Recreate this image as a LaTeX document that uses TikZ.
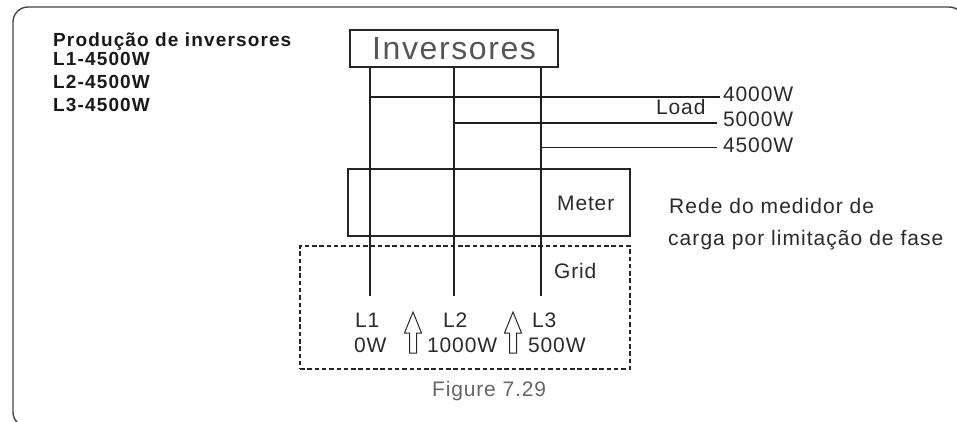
\documentclass[tikz,border=0pt]{standalone}
\usepackage{fontspec}
\setmainfont{Liberation Sans}
\newfontfamily\regfont[LetterSpace=4]{Liberation Sans}
\newfontfamily\boldfont[LetterSpace=6]{Liberation Sans Bold}
\newfontfamily\bigfont[LetterSpace=5]{Liberation Sans}
\newfontfamily\notefont[LetterSpace=5]{Liberation Sans}
\definecolor{txt}{HTML}{2A2A2A}
\definecolor{lgray}{HTML}{555555}
\definecolor{fgray}{HTML}{666666}
\definecolor{frame}{HTML}{444444}
\tikzset{
  wire/.style={line width=1.3pt, draw=black!88},
  boxst/.style={draw=black!85, line width=1.3pt, inner sep=0pt},
  lbl/.style={anchor=base west, inner sep=0pt, text=txt, font=\regfont\fontsize{21}{25}\selectfont},
  blbl/.style={anchor=base west, inner sep=0pt, text=black!90, font=\boldfont\fontsize{19}{22}\selectfont},
  hollowarrow/.style={draw=black!85, line width=1pt, line join=miter}
}
\begin{document}
\begin{tikzpicture}[x=1pt,y=-1pt]
\useasboundingbox (0,0) rectangle (957,421);
% outer frame (runs off the page on the right and bottom)
\begin{scope}
\clip (0,0) rectangle (957,421);
\draw[frame, line width=1.4pt, rounded corners=15pt] (13,7) rectangle (964,427);
\end{scope}

% left header text
\node[blbl] (h0) at (53,46.5) {Produção de inversores};
\node[blbl] (h1) at (53,65.5) {L1-4500W};
\node[blbl] (h2) at (53,88.5) {L2-4500W};
\node[blbl] (h3) at (53,111.5) {L3-4500W};

% inverter box
\node[boxst, minimum width=208pt, minimum height=37pt] (inv) at (454,48.5) {};
\node[anchor=base west, inner sep=0pt, text=lgray, font=\bigfont\fontsize{32}{36}\selectfont] (invt) at (372,59) {Inversores};

% meter box
\node[boxst, minimum width=282pt, minimum height=67pt] (meter) at (489,202.5) {};
\node[lbl] (metert) at (557,210) {Meter};

% grid dashed box
\node[draw=black!85, line width=1.3pt, dash pattern=on 4.5pt off 2.8pt, inner sep=0pt, minimum width=330pt, minimum height=123pt] (grid) at (465,307.5) {};
\node[lbl] (gridt) at (554,278) {Grid};

% phase wires
\coordinate (e1) at (370,296);
\coordinate (e2) at (454,296);
\coordinate (e3) at (541,296);
\draw[wire] (inv.south -| e1) -- (e1);
\draw[wire] (inv.south -| e2) -- (e2);
\draw[wire] (inv.south -| e3) -- (e3);

% load taps
\coordinate (t1) at (370,97);
\coordinate (t2) at (454,123);
\coordinate (t3) at (541,147.5);
\node[lbl] (w1) at (723,101) {4000W};
\node[lbl] (w2) at (723,126.5) {5000W};
\node[lbl] (w3) at (723,152) {4500W};
\node[lbl] (load) at (656,114.5) {Load};
\draw[wire] (t1) -- ([xshift=-3pt]t1 -| w1.west);
\draw[wire] (t2) -- ([xshift=-6pt]t2 -| w2.west);
\draw[wire] (t3) -- ([xshift=-6pt]t3 -| w3.west);

% note
\node[anchor=base west, inner sep=0pt, text=txt, font=\notefont\fontsize{21}{25}\selectfont] (n1) at (669,213) {Rede do medidor de};
\node[anchor=base west, inner sep=0pt, text=txt, font=\notefont\fontsize{21}{25}\selectfont] (n2) at (668,245) {carga por limitação de fase};

% phase labels
\node[lbl] (l1) at (355,327) {L1};
\node[lbl] (p1) at (354,352) {0W};
\node[lbl] (l2) at (443,327) {L2};
\node[lbl] (p2) at (427,352) {1000W};
\node[lbl] (l3) at (532,327) {L3};
\node[lbl] (p3) at (528,352) {500W};

% hollow arrows
\foreach \cx in {413,513}{
  \draw[hollowarrow] (\cx,312) -- (\cx+8.5,333) -- (\cx+3.5,333) -- (\cx+3.5,353)
     -- (\cx-3.5,353) -- (\cx-3.5,333) -- (\cx-8.5,333) -- cycle;
}

% caption
\node[anchor=base west, inner sep=0pt, text=fgray, font=\regfont\fontsize{21}{25}\selectfont] (cap) at (432,396) {Figure 7.29};
\end{tikzpicture}
\end{document}
